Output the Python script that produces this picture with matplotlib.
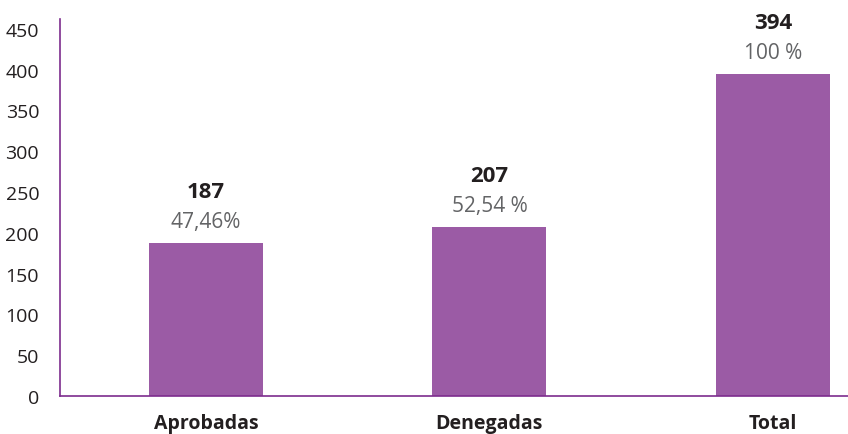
import matplotlib.pyplot as plt

categories = ["Aprobadas", "Denegadas", "Total"]
values = [187, 207, 394]
pct_labels = ["47,46%", "52,54 %", "100 %"]
y_ticks = [0, 50, 100, 150, 200, 250, 300, 350, 400, 450]

BAR_COLOR = "#9b5ba5"
SPINE_COLOR = "#7d2c8e"
plt.rcParams["font.family"] = ["Open Sans", "DejaVu Sans"]

fig = plt.figure(figsize=(8.48, 4.35), dpi=100)
ax = fig.add_axes([60 / 848, 38 / 435, 788 / 848, 377 / 435])

x = list(range(len(categories)))
ax.bar(x, values, width=0.402, color=BAR_COLOR)

# bold count above, percentage just over the bar
for xi, v, p in zip(x, values, pct_labels):
    ax.annotate(str(v), (xi, v), xytext=(0, 52), textcoords="offset pixels",
                ha="center", va="center", fontsize=16, fontweight="bold",
                color="#231f20")
    ax.annotate(p, (xi, v), xytext=(0, 22), textcoords="offset pixels",
                ha="center", va="center", fontsize=15, color="#636466")

ax.set_xlim(-0.515, 2.265)
ax.set_ylim(0, 462)
ax.set_yticks(y_ticks)
ax.set_xticks(x)
ax.set_xticklabels(categories, fontweight="bold", fontsize=14, color="#231f20")
ax.tick_params(axis="y", length=0, pad=15, labelsize=14, labelcolor="#231f20")
ax.tick_params(axis="x", length=0, pad=12)

for side in ["top", "right"]:
    ax.spines[side].set_visible(False)
for side in ["left", "bottom"]:
    ax.spines[side].set_color(SPINE_COLOR)
    ax.spines[side].set_linewidth(1.2)

fig.savefig("out.png", dpi=100)
